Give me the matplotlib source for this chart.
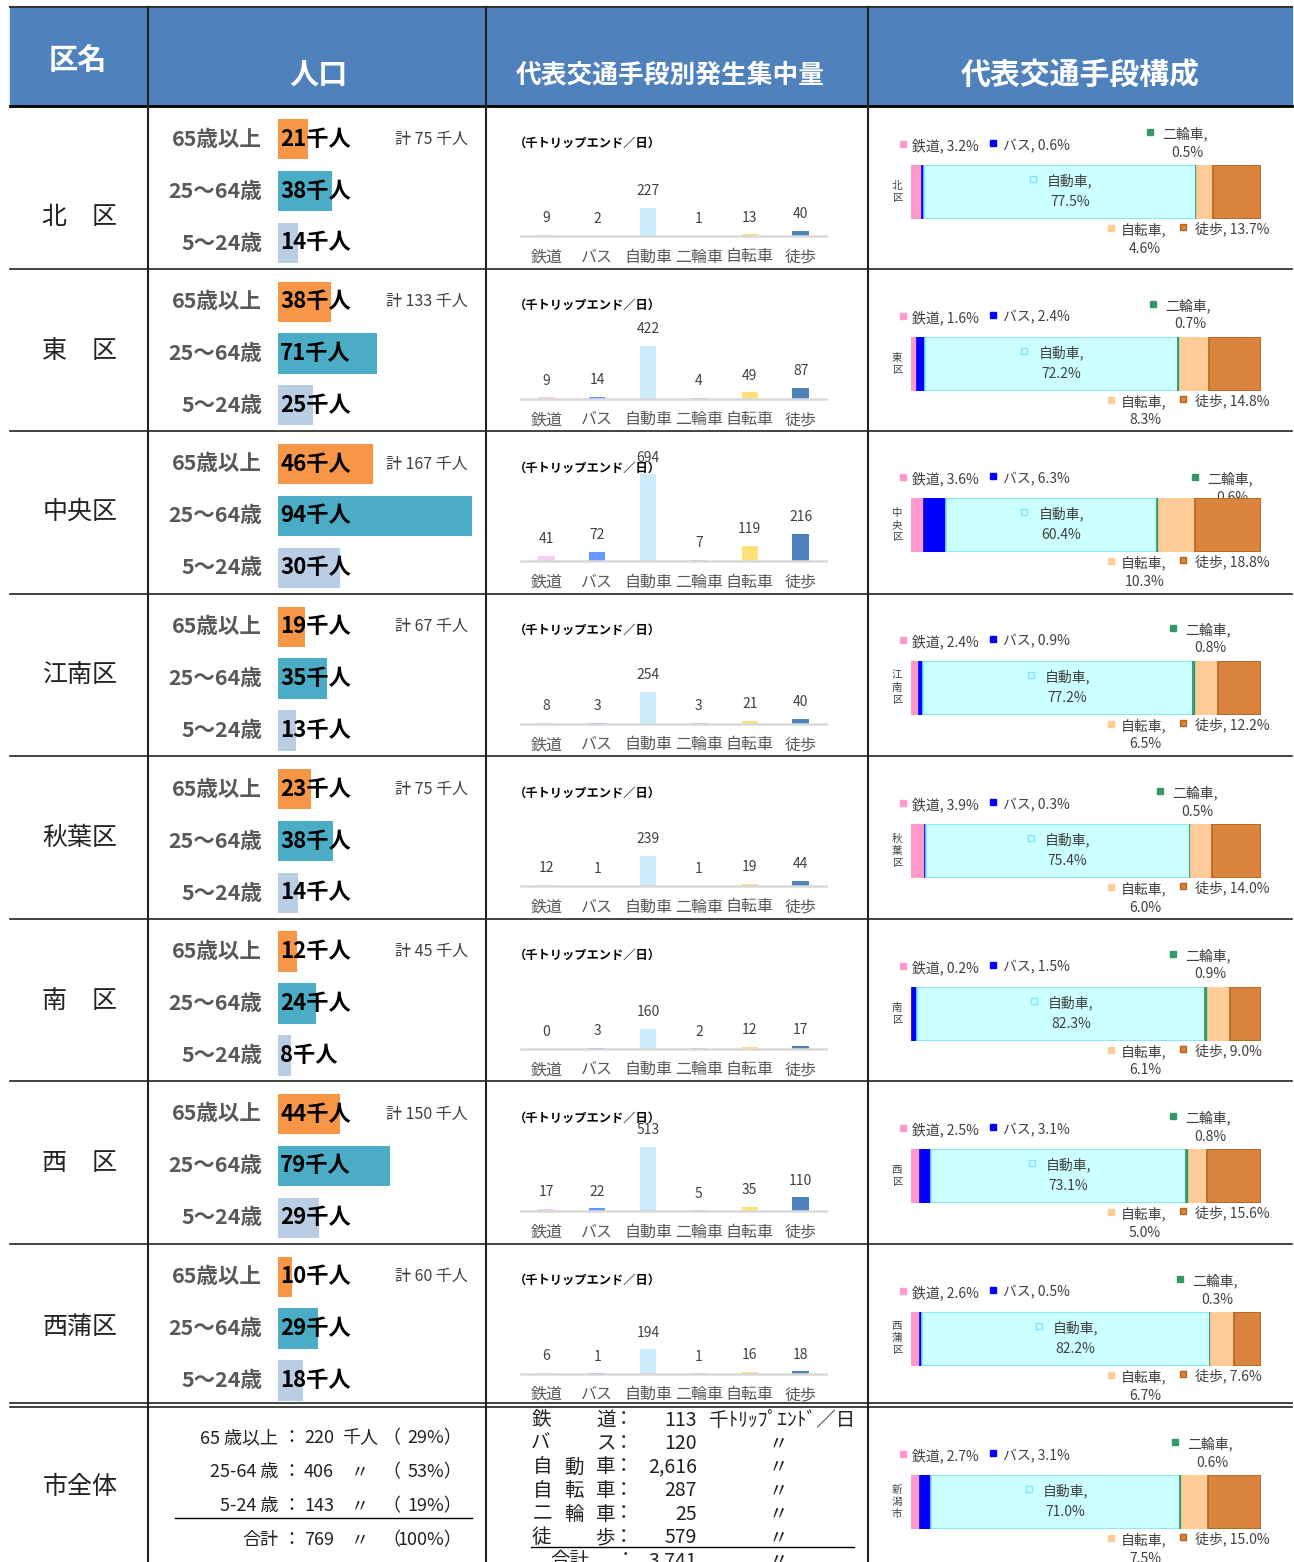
import matplotlib
matplotlib.use('agg')
import matplotlib.pyplot as plt
from matplotlib.patches import Rectangle
from matplotlib.transforms import offset_copy

plt.rcParams['font.family'] = ['Noto Sans CJK JP', 'DejaVu Sans']

districts = ['北　区', '東　区', '中央区', '江南区', '秋葉区', '南　区', '西　区', '西蒲区']
short_names = ['北\n区', '東\n区', '中\n央\n区', '江\n南\n区', '秋\n葉\n区',
               '南\n区', '西\n区', '西\n蒲\n区', '新\n潟\n市']
age_groups = ['65歳以上', '25～64歳', '5～24歳']
pop_65 = [21, 38, 46, 19, 23, 12, 44, 10]
pop_25 = [38, 71, 94, 35, 38, 24, 79, 29]
pop_5 = [14, 25, 30, 13, 14, 8, 29, 18]
pop_total = [75, 133, 167, 67, 75, 45, 150, 60]

modes = ['鉄道', 'バス', '自動車', '二輪車', '自転車', '徒歩']
trips_rail = [9, 9, 41, 8, 12, 0, 17, 6]
trips_bus = [2, 14, 72, 3, 1, 3, 22, 1]
trips_car = [227, 422, 694, 254, 239, 160, 513, 194]
trips_moto = [1, 4, 7, 3, 1, 2, 5, 1]
trips_bike = [13, 49, 119, 21, 19, 12, 35, 16]
trips_walk = [40, 87, 216, 40, 44, 17, 110, 18]

# shares (%), last entry is the whole city
share_rail = [3.2, 1.6, 3.6, 2.4, 3.9, 0.2, 2.5, 2.6, 2.7]
share_bus = [0.6, 2.4, 6.3, 0.9, 0.3, 1.5, 3.1, 0.5, 3.1]
share_car = [77.5, 72.2, 60.4, 77.2, 75.4, 82.3, 73.1, 82.2, 71.0]
share_moto = [0.5, 0.7, 0.6, 0.8, 0.5, 0.9, 0.8, 0.3, 0.6]
share_bike = [4.6, 8.3, 10.3, 6.5, 6.0, 6.1, 5.0, 6.7, 7.5]
share_walk = [13.7, 14.8, 18.8, 12.2, 14.0, 9.0, 15.6, 7.6, 15.0]

city_age_labels = ['65 歳以上', '25-64 歳', '5-24 歳', '合計']
city_pop = [220, 406, 143, 769]
city_pop_pct = [29, 53, 19, 100]
city_mode_labels = [('鉄', '道'), ('バ', 'ス'), ('自', '動', '車'), ('自', '転', '車'),
                    ('二', '輪', '車'), ('徒', '歩')]
city_trips = [113, 120, 2616, 287, 25, 579]
city_trips_total = 3741

# per-row layout tweaks
pop_axis_max = [141, 143, 97, 143, 138, 127, 141, 145]
name_dy = [111, 83, 81, 81, 82, 82, 82, 83]
comp_dy = [59, 68, 67, 67, 68, 68, 68, 68, 68]
moto_x = [1150, 1153, 1195, 1173, 1160, 1173, 1173, 1180, 1175]
moto_dy = [0, 0, 12, 0, 0, 0, 0, 0, 0]

W, H = 1294, 1562
fig = plt.figure(figsize=(W / 100, H / 100), dpi=100)
base = fig.add_axes([0, 0, 1, 1])
base.set_xlim(0, W)
base.set_ylim(H, 0)
base.axis('off')


def px_axes(x, y, w, h):
    ax = fig.add_axes([x / W, 1 - (y + h) / H, w / W, h / H])
    ax.patch.set_visible(False)
    return ax


HEAD = '#4F81BD'
GRAY = '#404040'
LGRAY = '#595959'
INK = '#222222'
pop_colors = ['#F79646', '#4BACC6', '#B9CDE5']
mode_colors = ['#F9CCF2', '#6699FF', '#CCEBFB', '#BFBFBF', '#FFE17A', '#4F81BD']
comp_colors = ['#FF99CC', '#0000FF', '#CCFFFF', '#339966', '#FFCC99', '#D9843F']
comp_edges = ['#FF99CC', '#0000FF', '#7FE5FF', '#339966', '#FFCC99', '#B5651D']

# header
base.add_patch(Rectangle((10, 7), 1282, 99, color=HEAD, zorder=0))
base.plot([10, 1292], [7, 7], color='#333333', lw=1.5)
for x, y, s, fs in [(78, 60, '区名', 21), (318, 75, '人口', 21),
                    (670, 75, '代表交通手段別発生集中量', 18.5),
                    (1080, 75, '代表交通手段構成', 21.5)]:
    base.text(x, y, s, ha='center', va='center', color='white',
              fontsize=fs, fontweight='bold')

row_tops = [106 + 162.5 * i for i in range(8)]
city_top = 1407

# grid lines
base.plot([10, 1292], [106, 106], color='black', lw=2)
for y in row_tops[1:]:
    base.plot([10, 1292], [y, y], color=INK, lw=1.2)
base.plot([10, 1292], [1403, 1403], color=INK, lw=1.2)
base.plot([10, 1292], [1407, 1407], color=INK, lw=1.2)
for x in [148, 486, 868]:
    base.plot([x, x], [7, H], color=INK, lw=1.5)


def comp_chart(k, top):
    vals = [share_rail[k], share_bus[k], share_car[k], share_moto[k],
            share_bike[k], share_walk[k]]
    bt = top + comp_dy[k]
    bb = bt + 54
    ax = px_axes(911, bt, 350, 54)
    left = 0
    for v, c, e in zip(vals, comp_colors, comp_edges):
        ax.barh(0, v, left=left, height=1, color=c, edgecolor=e, lw=1.2)
        left += v
    ax.set_xlim(0, 100)
    ax.set_ylim(-0.5, 0.5)
    ax.axis('off')
    base.text(897, bt + 27, short_names[k], ha='center', va='center',
              fontsize=7.5, color=GRAY, linespacing=1.25)
    fs = 10
    pct = ['{:.1f}%'.format(v) for v in vals]
    # rail / bus / motorcycle above the bar
    base.plot(903, bt - 21, 's', ms=5, color=comp_colors[0])
    base.text(912, bt - 19, '鉄道, ' + pct[0], va='center', fontsize=fs, color=GRAY)
    base.plot(993, bt - 22, 's', ms=5, color=comp_colors[1])
    base.text(1003, bt - 19, 'バス, ' + pct[1], va='center', fontsize=fs, color=GRAY)
    mx, my = moto_x[k], bt - 33 + moto_dy[k]
    base.plot(mx, my, 's', ms=5, color=comp_colors[3])
    base.text(mx + 12, my + 2, '二輪車,', va='center', fontsize=fs, color=GRAY)
    base.text(mx + 37, my + 21, pct[3], ha='center', va='center', fontsize=fs,
              color=GRAY)
    # car inside its segment
    cx = vals[0] + vals[1] + vals[2] / 2
    tr = offset_copy(ax.transData, fig=fig, x=10, y=0, units='dots')
    ax.text(cx, 0.2, '自動車,', transform=tr, ha='center', va='center',
            fontsize=fs, color=GRAY)
    ax.text(cx, -0.19, pct[2], transform=tr, ha='center', va='center',
            fontsize=fs, color=GRAY)
    trm = offset_copy(ax.transData, fig=fig, x=-27, y=2, units='dots')
    ax.plot(cx, 0.2, 's', ms=5, mfc='none', mec=comp_edges[2], mew=1,
            transform=trm)
    # bike / walk below the bar
    base.plot(1111, bb + 9, 's', ms=5, color=comp_colors[4])
    base.text(1121, bb + 11, '自転車,', va='center', fontsize=fs, color=GRAY)
    base.text(1145, bb + 30, pct[4], ha='center', va='center', fontsize=fs, color=GRAY)
    base.plot(1183, bb + 8, 's', ms=5, color=comp_colors[5], mec=comp_edges[5])
    base.text(1195, bb + 10, '徒歩, ' + pct[5], va='center', fontsize=fs, color=GRAY)


for i, top in enumerate(row_tops):
    base.text(80, top + name_dy[i], districts[i], ha='center', va='center',
              fontsize=18, color=INK)

    # population
    vals = [pop_65[i], pop_25[i], pop_5[i]]
    ax = px_axes(278, top + 13, 200, 144)
    ax.barh(range(3), vals, height=0.77, color=pop_colors)
    ax.set_xlim(0, pop_axis_max[i])
    ax.set_ylim(2.385, -0.385)
    ax.axis('off')
    for j, v in enumerate(vals):
        base.text(262, top + 33 + 52 * j, age_groups[j], ha='right', va='center',
                  fontsize=15.5, color=LGRAY, fontweight='bold')
        ax.annotate('{}千人'.format(v), (0, j), xytext=(1.5, 0),
                    textcoords='offset points', ha='left', va='center',
                    fontsize=16, fontweight='bold', color='black')
    base.text(468, top + 33, '計 {} 千人'.format(pop_total[i]), ha='right',
              va='center', fontsize=11.5, color=GRAY)

    # trip generation by mode
    trips = [trips_rail[i], trips_bus[i], trips_car[i], trips_moto[i],
             trips_bike[i], trips_walk[i]]
    ax = px_axes(521, top + 20, 305, 110)
    ax.bar(range(6), trips, width=0.32, color=mode_colors)
    ax.set_xlim(-0.5, 5.5)
    ax.set_ylim(0, 880)
    for s in ['top', 'left', 'right']:
        ax.spines[s].set_visible(False)
    ax.spines['bottom'].set_color('#D9D9D9')
    ax.spines['bottom'].set_linewidth(1.8)
    ax.set_yticks([])
    ax.set_xticks(range(6))
    ax.set_xticklabels(modes, fontsize=11.5, color=LGRAY)
    ax.tick_params(axis='x', length=0, pad=9)
    for j, v in enumerate(trips):
        ax.annotate(str(v), (j, v), xytext=(0, 7), textcoords='offset points',
                    ha='center', va='bottom', fontsize=10, color=GRAY)
    base.text(514, top + 37, '（千トリップエンド／日）', va='center',
              fontsize=8.8, fontweight='bold', color='black')

    comp_chart(i, top)

# whole city row
base.text(80, 1487, '市全体', ha='center', va='center', fontsize=18, color=INK)
for j, (lab, v, p) in enumerate(zip(city_age_labels, city_pop, city_pop_pct)):
    y = 1438 + 34 * j
    base.text(278, y, lab, ha='right', va='center', fontsize=13, color=INK)
    base.text(291, y, '：', ha='center', va='center', fontsize=13, color=INK)
    base.text(334, y, str(v), ha='right', va='center', fontsize=13, color=INK)
    base.text(360, y, '千人' if j == 0 else '〃', ha='center', va='center',
              fontsize=13, color=INK)
    base.text(382, y, '（', ha='left', va='center', fontsize=13, color=INK)
    base.text(462, y, '{}%）'.format(p), ha='right', va='center', fontsize=13,
              color=INK)
base.plot([175, 472], [1518, 1518], color='black', lw=1)

xs = {2: [541, 606], 3: [543, 574, 606]}
for j, (lab, v) in enumerate(zip(city_mode_labels, city_trips)):
    y = 1420 + 23.5 * j
    for ch, x in zip(lab, xs[len(lab)]):
        base.text(x, y, ch, ha='center', va='center', fontsize=14, color=INK)
    base.text(623, y, '：', ha='center', va='center', fontsize=14, color=INK)
    base.text(697, y, '{:,}'.format(v), ha='right', va='center', fontsize=14,
              color=INK)
    if j == 0:
        base.text(709, y, '千ﾄﾘｯﾌﾟｴﾝﾄﾞ／日', ha='left', va='center', fontsize=14,
                  color=INK)
    else:
        base.text(778, y, '〃', ha='center', va='center', fontsize=14, color=INK)
base.plot([531, 854], [1547, 1547], color='black', lw=1)
y = 1420 + 23.5 * 6
base.text(570, y, '合計', ha='center', va='center', fontsize=14, color=INK)
base.text(626, y, '：', ha='center', va='center', fontsize=14, color=INK)
base.text(697, y, '{:,}'.format(city_trips_total), ha='right', va='center',
          fontsize=14, color=INK)
base.text(778, y, '〃', ha='center', va='center', fontsize=14, color=INK)

comp_chart(8, city_top)

fig.savefig('out.png', dpi=100)
